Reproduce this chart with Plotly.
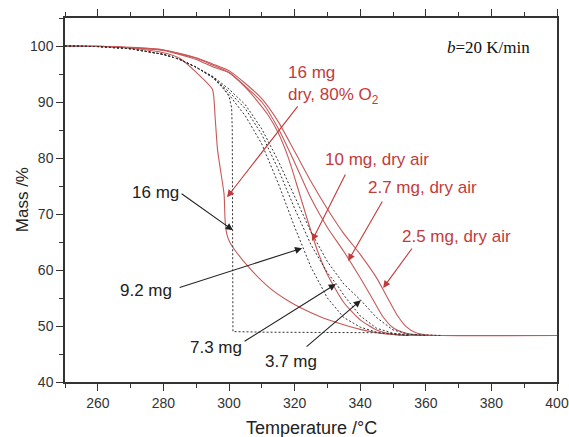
import plotly.graph_objects as go

# Thermogravimetric curves: temperature (°C) and remaining mass (%)
t_black_16 = [250, 260, 270, 280, 285, 290, 295, 298, 300, 300.8, 301.0, 301.1, 301.2, 310, 330, 345, 355, 365]
m_black_16 = [100, 99.9, 99.5, 98.5, 97.6, 96.2, 94.4, 92.8, 91.0, 89.0, 85.0, 60.0, 49.0, 48.9, 48.9, 48.8, 48.5, 48.3]

t_black_92 = [250, 260, 270, 280, 285, 290, 295, 300, 305, 310, 315, 320, 325, 330, 335, 340, 345, 350, 355]
m_black_92 = [100, 99.9, 99.5, 98.5, 97.6, 96.2, 94.4, 91.3, 87.5, 82.5, 75.5, 67.7, 60.5, 55.0, 51.5, 49.8, 48.9, 48.5, 48.3]

t_black_73 = [250, 260, 270, 280, 285, 290, 295, 300, 305, 310, 315, 320, 325, 330, 333, 335, 340, 345, 350, 355]
m_black_73 = [100, 99.9, 99.5, 98.5, 97.6, 96.2, 94.5, 91.8, 88.8, 84.2, 78.0, 71.0, 64.5, 59.5, 57.3, 55.5, 51.8, 49.6, 48.7, 48.3]

t_black_37 = [250, 260, 270, 280, 285, 290, 295, 300, 305, 310, 315, 320, 325, 330, 335, 340, 345, 350, 355, 360]
m_black_37 = [100, 99.9, 99.5, 98.5, 97.6, 96.2, 94.6, 92.3, 89.5, 85.2, 79.5, 73.0, 66.8, 61.5, 57.5, 54.7, 51.5, 49.3, 48.5, 48.3]

t_red_o2 = [250, 260, 270, 280, 285, 290, 293, 295, 295.8, 296.5, 297.5, 298.5, 298.8, 299.3, 300.2, 301.5, 306, 312, 318, 322, 328, 334, 340, 346, 352, 360, 400]
m_red_o2 = [100, 99.9, 99.6, 98.8, 97.8, 95.3, 93.6, 92.2, 87.0, 81.5, 77.5, 73.5, 69.0, 66.5, 65.0, 63.8, 60.5, 57.0, 54.5, 53.2, 51.6, 50.4, 49.4, 48.7, 48.4, 48.3, 48.3]

t_red_10 = [250, 260, 270, 280, 290, 295, 300, 305, 309, 312, 315, 318, 321, 324, 327, 330, 335, 340, 345, 350, 355]
m_red_10 = [100, 99.95, 99.7, 99.2, 97.6, 96.3, 95.2, 92.6, 89.9, 87.6, 84.5, 80.2, 74.6, 68.8, 63.4, 59.2, 54.2, 51.1, 49.3, 48.5, 48.3]

t_red_27 = [250, 260, 270, 280, 290, 295, 300, 305, 310, 315, 320, 325, 330, 335, 340, 344, 347, 350, 353, 356, 360]
m_red_27 = [100, 99.95, 99.7, 99.3, 97.8, 96.6, 95.3, 92.8, 90.0, 85.3, 79.2, 72.8, 67.6, 63.3, 58.6, 54.6, 51.6, 49.7, 48.9, 48.5, 48.3]

t_red_25 = [250, 260, 270, 280, 290, 295, 300, 305, 310, 315, 320, 325, 330, 335, 340, 345, 348, 351, 354, 357, 360, 365, 400]
m_red_25 = [100, 99.95, 99.75, 99.3, 97.9, 96.8, 95.6, 93.3, 90.6, 86.5, 81.2, 75.8, 70.9, 66.5, 62.8, 58.6, 55.4, 52.2, 49.9, 48.8, 48.45, 48.3, 48.3]

black_series = [(t_black_16, m_black_16), (t_black_92, m_black_92),
                (t_black_73, m_black_73), (t_black_37, m_black_37)]
red_series = [(t_red_o2, m_red_o2), (t_red_10, m_red_10),
              (t_red_27, m_red_27), (t_red_25, m_red_25)]

RED_LINE = "#c85858"
RED_TEXT = "#c23b3b"
DARK = "#222222"
FONT = "Arial, Liberation Sans, sans-serif"

fig = go.Figure()
for t, m in red_series:
    fig.add_trace(go.Scatter(x=t, y=m, mode="lines",
                             line=dict(color=RED_LINE, width=1.1, shape="spline",
                                       smoothing=0.6),
                             showlegend=False, hoverinfo="skip"))
for t, m in black_series:
    fig.add_trace(go.Scatter(x=t, y=m, mode="lines",
                             line=dict(color="#333333", width=1.0, dash="2px,2px"),
                             showlegend=False, hoverinfo="skip"))

# Labels: (text, x, y, colour)
labels = [
    ("16 mg", 317.4, 95.2, RED_TEXT),
    ("dry, 80% O<sub>2</sub>", 317.4, 91.0, RED_TEXT),
    ("10 mg, dry air", 328.7, 79.8, RED_TEXT),
    ("2.7 mg, dry air", 341.8, 74.8, RED_TEXT),
    ("2.5 mg, dry air", 352.1, 65.9, RED_TEXT),
    ("16 mg", 269.8, 73.9, DARK),
    ("9.2 mg", 266.2, 56.4, DARK),
    ("7.3 mg", 287.5, 46.1, DARK),
    ("3.7 mg", 310.4, 43.6, DARK),
]
for text, x, y, col in labels:
    fig.add_annotation(x=x, y=y, xref="x", yref="y", text=text, showarrow=False,
                       xanchor="left", yanchor="middle",
                       font=dict(family=FONT, size=17, color=col))

# Pointer arrows: (tail x, tail y, head x, head y, colour)
arrows = [
    (321.3, 89.5, 299.4, 73.0, RED_TEXT),
    (335.7, 77.3, 325.3, 65.2, RED_TEXT),
    (347.0, 72.5, 336.3, 61.6, RED_TEXT),
    (356.1, 64.1, 347.0, 56.8, RED_TEXT),
    (285.1, 73.8, 301.2, 67.1, DARK),
    (284.5, 56.8, 322.3, 63.9, DARK),
    (304.3, 47.1, 332.6, 57.5, DARK),
    (323.2, 46.1, 340.2, 54.6, DARK),
]
for tx, ty, hx, hy, col in arrows:
    fig.add_annotation(x=hx, y=hy, ax=tx, ay=ty, xref="x", yref="y",
                       axref="x", ayref="y", text="", showarrow=True,
                       arrowhead=2, arrowsize=1.3, arrowwidth=1.1,
                       arrowcolor=col)

fig.add_annotation(x=379, y=99.8, xref="x", yref="y",
                   text="<i>b</i>=20 K/min", showarrow=False,
                   xanchor="center", yanchor="middle",
                   font=dict(family="Liberation Serif, Times New Roman, serif",
                             size=17, color="#111111"))

# Axis titles
fig.add_annotation(x=0.5, y=-0.126, xref="paper", yref="paper",
                   text="Temperature /°C", showarrow=False,
                   xanchor="center", yanchor="middle",
                   font=dict(family=FONT, size=18, color="#222222"))
fig.add_annotation(x=-0.087, y=0.5, xref="paper", yref="paper",
                   text="Mass /%", showarrow=False, textangle=-90,
                   xanchor="center", yanchor="middle",
                   font=dict(family=FONT, size=17, color="#222222"))

axis_common = dict(
    showline=True, linecolor="#333333", linewidth=1.5,
    ticks="outside", ticklen=7, tickwidth=1.3, tickcolor="#333333",
    showgrid=False, zeroline=False, automargin=False,
    tickfont=dict(family=FONT, size=14, color="#333333"),
)

fig.update_xaxes(
    range=[250, 400], dtick=20, tick0=0, mirror="ticks",
    minor=dict(dtick=10, ticks="outside", ticklen=4, tickwidth=1.3,
               tickcolor="#333333", showgrid=False),
    **axis_common,
)
fig.update_yaxes(
    range=[40, 105], dtick=10, tick0=0, mirror=True,
    minor=dict(dtick=5, ticks="outside", ticklen=4, tickwidth=1.3,
               tickcolor="#333333", showgrid=False),
    **axis_common,
)

fig.update_layout(
    width=569, height=437,
    margin=dict(l=65, r=12, t=18, b=55),
    paper_bgcolor="white", plot_bgcolor="white",
    showlegend=False,
)

fig.write_html("out.html")
